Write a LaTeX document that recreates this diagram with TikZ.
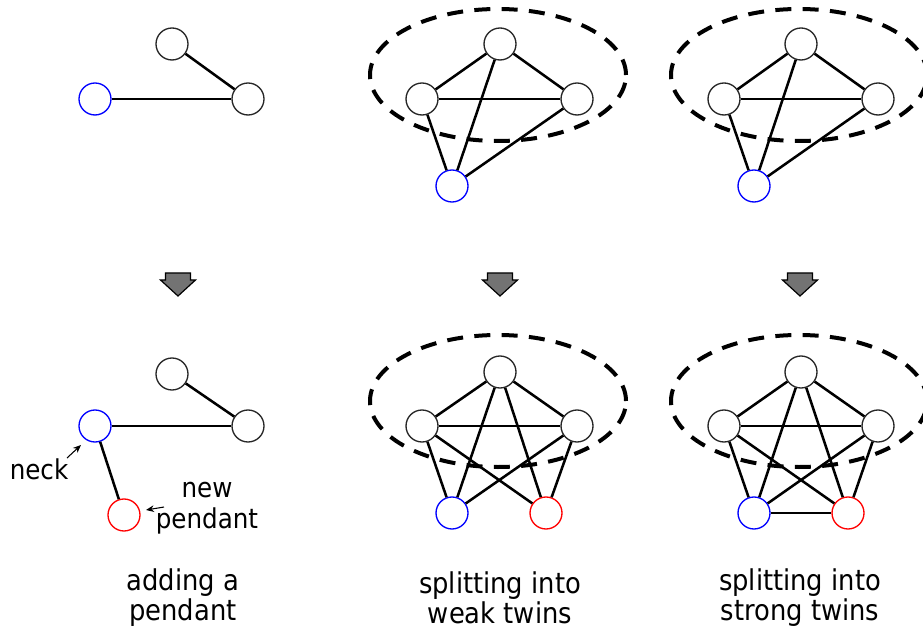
\documentclass[tikz,border=0pt]{standalone}
\usepackage{fontspec}
\setmainfont{DejaVu Sans Condensed}
\usetikzlibrary{arrows.meta}
\begin{document}
\begin{tikzpicture}[x=0.75pt,y=-0.75pt,
  vtx/.style={circle,draw=black!85,line width=1pt,minimum size=24pt,inner sep=0pt},
  bv/.style={vtx,draw=blue},
  rv/.style={vtx,draw=red},
  edge/.style={line width=1.9pt},
  grp/.style={line width=3pt,dash pattern=on 12pt off 8.5pt},
  blockarrow/.style={fill=black!55,draw=black,line width=0.9pt,line join=miter},
  lbl/.style={font=\fontsize{21.5}{22.5}\selectfont,align=center,inner sep=0pt},
  note/.style={font=\fontsize{20.5}{23}\selectfont,align=center,inner sep=0pt},
  ptr/.style={line width=0.8pt,-{Stealth[length=6pt,width=5pt]}}
]
\useasboundingbox (0,0) rectangle (923,630);

% ---------- panel 1 top ----------
\node[vtx] (a1t) at (172,44) {};
\node[vtx] (a1r) at (248,99) {};
\node[bv]  (a1b) at (95,99) {};
\draw[edge] (a1t) -- (a1r);
\draw[edge] (a1b) -- (a1r);

% ---------- panel 1 bottom ----------
\node[vtx] (b1t) at (172,374) {};
\node[vtx] (b1r) at (248,426) {};
\node[bv]  (b1b) at (95,426) {};
\node[rv]  (b1p) at (124,515) {};
\draw[edge] (b1t) -- (b1r);
\draw[edge] (b1b) -- (b1r);
\draw[edge] (b1b) -- (b1p);
\node[note] (neck) at (39,469) {neck};
\node[note] (newp) at (207,508) {new\\pendant};
\coordinate (neckS) at (67,458);
\coordinate (neckE) at (81,445);
\coordinate (penS) at (164,507);
\coordinate (penE) at (146,510);
\draw[ptr] (neckS) -- (neckE);
\draw[ptr] (penS) -- (penE);

% ---------- panel 2 top ----------
\node[vtx] (a2t) at (500,44) {};
\node[vtx] (a2l) at (422,99) {};
\node[vtx] (a2r) at (577,99) {};
\node[bv]  (a2b) at (452,186) {};
\draw[edge] (a2t) -- (a2l);
\draw[edge] (a2t) -- (a2r);
\draw[edge] (a2l) -- (a2r);
\draw[edge] (a2l) -- (a2b);
\draw[edge] (a2t) -- (a2b);
\draw[edge] (a2r) -- (a2b);
\draw[grp] (498,75) ellipse [x radius=96pt, y radius=49.5pt];

% ---------- panel 2 bottom ----------
\node[vtx] (b2t) at (500,372) {};
\node[vtx] (b2l) at (422,426) {};
\node[vtx] (b2r) at (577,426) {};
\node[bv]  (b2b) at (452,513) {};
\node[rv]  (b2p) at (546,513) {};
\draw[edge] (b2t) -- (b2l);
\draw[edge] (b2t) -- (b2r);
\draw[edge] (b2l) -- (b2r);
\draw[edge] (b2l) -- (b2b);
\draw[edge] (b2t) -- (b2b);
\draw[edge] (b2r) -- (b2b);
\draw[edge] (b2l) -- (b2p);
\draw[edge] (b2t) -- (b2p);
\draw[edge] (b2r) -- (b2p);
\draw[grp] (498,401) ellipse [x radius=96pt, y radius=49.5pt];

% ---------- panel 3 top ----------
\node[vtx] (a3t) at (801,44) {};
\node[vtx] (a3l) at (724,99) {};
\node[vtx] (a3r) at (878,99) {};
\node[bv]  (a3b) at (754,186) {};
\draw[edge] (a3t) -- (a3l);
\draw[edge] (a3t) -- (a3r);
\draw[edge] (a3l) -- (a3r);
\draw[edge] (a3l) -- (a3b);
\draw[edge] (a3t) -- (a3b);
\draw[edge] (a3r) -- (a3b);
\draw[grp] (799,75) ellipse [x radius=96pt, y radius=49.5pt];

% ---------- panel 3 bottom ----------
\node[vtx] (b3t) at (801,372) {};
\node[vtx] (b3l) at (724,426) {};
\node[vtx] (b3r) at (878,426) {};
\node[bv]  (b3b) at (754,513) {};
\node[rv]  (b3p) at (848,513) {};
\draw[edge] (b3t) -- (b3l);
\draw[edge] (b3t) -- (b3r);
\draw[edge] (b3l) -- (b3r);
\draw[edge] (b3l) -- (b3b);
\draw[edge] (b3t) -- (b3b);
\draw[edge] (b3r) -- (b3b);
\draw[edge] (b3l) -- (b3p);
\draw[edge] (b3t) -- (b3p);
\draw[edge] (b3r) -- (b3p);
\draw[edge] (b3b) -- (b3p);
\draw[grp] (799,401) ellipse [x radius=96pt, y radius=49.5pt];

% ---------- block arrows ----------
\foreach \cx in {178,500,800}{
  \draw[blockarrow,shift={(\cx,0)}] (-12.5,273) -- (12.5,273) -- (12.5,280) -- (17.5,280)
     -- (0,296) -- (-17.5,280) -- (-12.5,280) -- cycle;
}

% ---------- captions ----------
\node[lbl] (c1) at (183,597.5) {adding a\\pendant};
\node[lbl] (c2) at (500,597.5) {splitting into\\weak twins};
\node[lbl] (c3) at (800,597.5) {splitting into\\strong twins};
\end{tikzpicture}
\end{document}
